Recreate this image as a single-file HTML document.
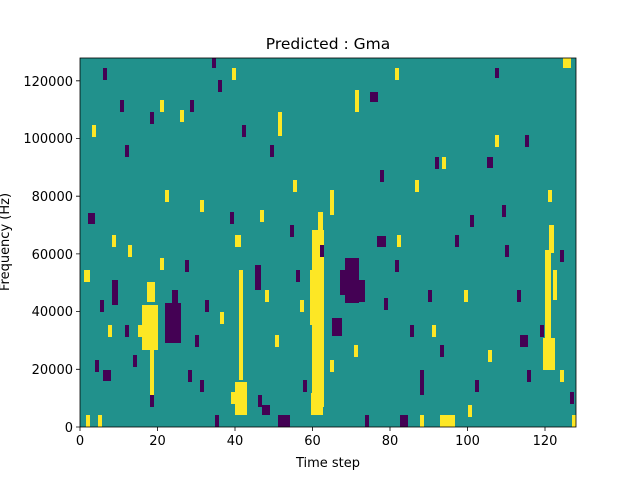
<!DOCTYPE html>
<html><head><meta charset="utf-8"><style>
body{margin:0;background:#fff;width:640px;height:480px;overflow:hidden}
</style></head><body>
<svg width="640" height="480" xmlns="http://www.w3.org/2000/svg" font-family="DejaVu Sans, Liberation Sans, sans-serif">
<rect x="80" y="58" width="496" height="369" fill="#21918c"/>
<g fill="#fde725">
<rect x="312" y="230" width="12" height="177"/>
<rect x="310" y="270" width="14" height="55"/>
<rect x="311" y="393" width="12" height="22"/>
<rect x="318" y="212" width="5" height="22"/>
<rect x="142" y="305" width="16" height="45"/>
<rect x="138" y="325" width="8" height="12"/>
<rect x="150" y="350" width="4" height="55"/>
<rect x="147" y="282" width="8" height="20"/>
<rect x="235" y="382" width="12" height="33"/>
<rect x="231" y="392" width="6" height="12"/>
<rect x="239" y="270" width="4" height="110"/>
<rect x="235" y="235" width="6" height="12"/>
<rect x="543" y="338" width="12" height="32"/>
<rect x="545" y="250" width="6" height="90"/>
<rect x="549" y="225" width="5" height="28"/>
<rect x="553" y="270" width="4" height="30"/>
<rect x="440" y="415" width="15" height="12"/>
<rect x="355" y="90" width="4" height="22"/>
<rect x="278" y="112" width="4" height="24"/>
<rect x="397" y="235" width="4" height="12"/>
<rect x="84" y="270" width="6" height="12"/>
<rect x="98" y="415" width="4" height="12"/>
<rect x="86" y="415" width="4" height="12"/>
<rect x="464" y="290" width="4" height="12"/>
<rect x="432" y="325" width="4" height="12"/>
<rect x="260" y="210" width="4" height="12"/>
<rect x="200" y="200" width="4" height="12"/>
<rect x="165" y="190" width="4" height="12"/>
<rect x="548" y="190" width="4" height="12"/>
<rect x="563" y="58" width="8" height="10"/>
<rect x="442" y="157" width="4" height="12"/>
<rect x="354" y="345" width="4" height="12"/>
<rect x="275" y="335" width="4" height="12"/>
<rect x="293" y="180" width="4" height="12"/>
<rect x="415" y="180" width="4" height="12"/>
<rect x="330" y="190" width="4" height="25"/>
<rect x="220" y="312" width="4" height="12"/>
<rect x="488" y="350" width="4" height="12"/>
<rect x="560" y="370" width="4" height="12"/>
<rect x="160" y="100" width="4" height="12"/>
<rect x="180" y="110" width="4" height="12"/>
<rect x="92" y="125" width="4" height="12"/>
<rect x="232" y="68" width="4" height="12"/>
<rect x="395" y="68" width="4" height="12"/>
<rect x="300" y="300" width="4" height="12"/>
<rect x="330" y="360" width="4" height="12"/>
<rect x="495" y="135" width="4" height="12"/>
<rect x="160" y="258" width="4" height="12"/>
<rect x="108" y="325" width="4" height="12"/>
<rect x="265" y="290" width="4" height="12"/>
<rect x="572" y="415" width="4" height="12"/>
<rect x="468" y="405" width="4" height="12"/>
<rect x="420" y="415" width="4" height="12"/>
<rect x="112" y="235" width="4" height="12"/>
<rect x="128" y="245" width="4" height="12"/>
</g>
<g fill="#440154">
<rect x="165" y="303" width="16" height="40"/>
<rect x="172" y="290" width="6" height="15"/>
<rect x="345" y="258" width="14" height="45"/>
<rect x="340" y="270" width="8" height="25"/>
<rect x="355" y="280" width="10" height="22"/>
<rect x="332" y="318" width="10" height="18"/>
<rect x="278" y="415" width="12" height="12"/>
<rect x="377" y="236" width="9" height="11"/>
<rect x="370" y="92" width="8" height="10"/>
<rect x="487" y="157" width="6" height="11"/>
<rect x="112" y="280" width="6" height="25"/>
<rect x="103" y="370" width="8" height="11"/>
<rect x="88" y="213" width="7" height="11"/>
<rect x="255" y="265" width="6" height="25"/>
<rect x="258" y="395" width="4" height="12"/>
<rect x="262" y="405" width="8" height="10"/>
<rect x="384" y="298" width="4" height="12"/>
<rect x="400" y="415" width="8" height="12"/>
<rect x="520" y="335" width="8" height="12"/>
<rect x="380" y="170" width="4" height="12"/>
<rect x="435" y="157" width="4" height="12"/>
<rect x="502" y="205" width="4" height="12"/>
<rect x="527" y="370" width="4" height="12"/>
<rect x="570" y="392" width="4" height="12"/>
<rect x="218" y="80" width="4" height="12"/>
<rect x="242" y="125" width="4" height="12"/>
<rect x="270" y="145" width="4" height="12"/>
<rect x="190" y="100" width="4" height="12"/>
<rect x="120" y="100" width="4" height="12"/>
<rect x="103" y="68" width="4" height="12"/>
<rect x="212" y="58" width="4" height="10"/>
<rect x="495" y="68" width="4" height="10"/>
<rect x="200" y="380" width="4" height="12"/>
<rect x="150" y="395" width="4" height="12"/>
<rect x="420" y="370" width="4" height="25"/>
<rect x="296" y="270" width="4" height="12"/>
<rect x="230" y="212" width="4" height="12"/>
<rect x="440" y="345" width="4" height="12"/>
<rect x="540" y="325" width="4" height="12"/>
<rect x="95" y="360" width="4" height="12"/>
<rect x="125" y="325" width="4" height="12"/>
<rect x="560" y="250" width="4" height="12"/>
<rect x="185" y="260" width="4" height="12"/>
<rect x="195" y="335" width="4" height="12"/>
<rect x="205" y="300" width="4" height="12"/>
<rect x="125" y="145" width="4" height="12"/>
<rect x="150" y="112" width="4" height="12"/>
<rect x="290" y="225" width="4" height="12"/>
<rect x="320" y="245" width="4" height="12"/>
<rect x="395" y="260" width="4" height="12"/>
<rect x="410" y="325" width="4" height="12"/>
<rect x="455" y="235" width="4" height="12"/>
<rect x="505" y="245" width="4" height="12"/>
<rect x="517" y="290" width="4" height="12"/>
<rect x="470" y="215" width="4" height="12"/>
<rect x="525" y="135" width="4" height="12"/>
<rect x="100" y="300" width="4" height="12"/>
<rect x="133" y="355" width="4" height="12"/>
<rect x="215" y="415" width="4" height="12"/>
<rect x="188" y="370" width="4" height="12"/>
<rect x="303" y="380" width="4" height="12"/>
<rect x="365" y="415" width="4" height="12"/>
<rect x="428" y="290" width="4" height="12"/>
<rect x="475" y="380" width="4" height="12"/>
</g>
<g stroke="#000" stroke-width="0.8" fill="none">
<rect x="80" y="58" width="496" height="369"/>
<path d="M80 427v4M157.5 427v4M235 427v4M312.5 427v4M390 427v4M467.5 427v4M545 427v4M80 427h-4M80 369.3h-4M80 311.6h-4M80 253.9h-4M80 196.2h-4M80 138.5h-4M80 80.8h-4"/>
</g>
<g font-size="13" fill="#000" text-anchor="middle">
<text x="80" y="445">0</text><text x="157.5" y="445">20</text><text x="235" y="445">40</text><text x="312.5" y="445">60</text><text x="390" y="445">80</text><text x="467.5" y="445">100</text><text x="545" y="445">120</text>
</g>
<g font-size="13" fill="#000" text-anchor="end">
<text x="73" y="432">0</text><text x="73" y="374">20000</text><text x="73" y="316">40000</text><text x="73" y="259">60000</text><text x="73" y="201">80000</text><text x="73" y="143">100000</text><text x="73" y="86">120000</text>
</g>
<text x="328" y="467" font-size="13" text-anchor="middle">Time step</text>
<text transform="translate(9,242) rotate(-90)" font-size="13" text-anchor="middle">Frequency (Hz)</text>
<text x="328" y="49" font-size="15.5" text-anchor="middle">Predicted : Gma</text>
</svg>
</body></html>
